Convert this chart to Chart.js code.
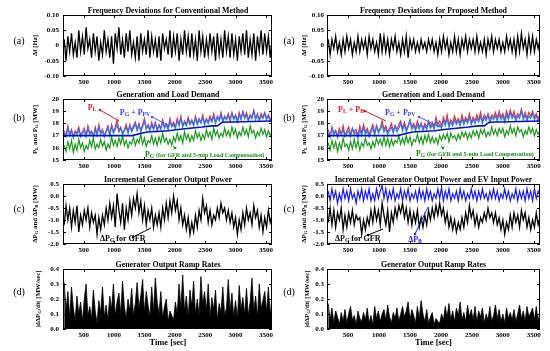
<!DOCTYPE html>
<html><head><meta charset="utf-8">
<script src="https://cdn.jsdelivr.net/npm/chart.js@4.4.1/dist/chart.umd.min.js"></script>
<style>
html,body{margin:0;padding:0;background:#fff;width:550px;height:351px;overflow:hidden;position:relative}
canvas{position:absolute}
</style></head><body>
<script>
// ---------- DATA ----------
const xTickValues = [500,1000,1500,2000,2500,3000,3500];
const timeMin = 160, timeMax = 3600, sampleStart = 180, sampleEnd = 3600;

const ticksA = [-0.10,-0.05,0,0.05,0.10];
const ticksB = [15,16,17,18,19,20];
const ticksC = [-2.0,-1.5,-1.0,-0.5,0.0,0.5];
const ticksD = [0.0,0.1,0.2,0.3,0.4];

const freqConv = [0.02,-0.05,0.03,-0.02,0.04,-0.03,0.01,-0.04,0.05,-0.02,
0.03,-0.03,0.06,-0.01,0.02,-0.04,0.04,-0.02,0.03,-0.05,
0.01,-0.03,0.05,-0.02,0.02,-0.04,0.03,-0.06,0.04,-0.01,
0.06,-0.03,0.02,-0.04,0.04,-0.02,0.05,-0.03,0.01,-0.04,
0.03,-0.05,0.04,-0.02,0.02,-0.03,0.05,-0.04,0.03,-0.02,
0.02,-0.04,0.03,-0.05,0.04,-0.01,0.02,-0.03,0.05,-0.04,
0.03,-0.02,0.04,-0.05,0.02,-0.03,0.05,-0.02,0.03,-0.04,
0.04,-0.03,0.02,-0.05,0.05,-0.02,0.03,-0.04,0.02,-0.03,
0.04,-0.02,0.03,-0.05,0.04,-0.03,0.02,-0.04,0.05,-0.02,
0.03,-0.04,0.04,-0.03,0.02,-0.05,0.03,-0.02,0.04,-0.03,
0.05,-0.04,0.02,-0.03,0.04,-0.05,0.03,-0.02,0.05,-0.03,
0.04,-0.02,0.03,-0.04,0.02];

const freqProp = [0.02,-0.03,0.02,-0.01,0.03,-0.02,0.01,-0.03,0.02,-0.02,
0.03,-0.01,0.02,-0.03,0.01,-0.02,0.03,-0.02,0.02,-0.01,
0.02,-0.03,0.03,-0.01,0.02,-0.02,0.01,-0.03,0.04,-0.02,
0.03,-0.02,0.02,-0.03,0.02,-0.01,0.03,-0.02,0.01,-0.03,
0.02,-0.02,0.03,-0.04,0.02,-0.01,0.02,-0.02,0.01,-0.02,
0.02,-0.01,0.01,-0.02,0.02,-0.01,0.02,-0.02,0.01,-0.03,
0.02,-0.02,0.03,-0.01,0.02,-0.03,0.01,-0.02,0.03,-0.02,
0.02,-0.03,0.02,-0.01,0.03,-0.02,0.02,-0.01,0.02,-0.02,
0.03,-0.02,0.01,-0.02,0.02,-0.03,0.02,-0.01,0.03,-0.02,
0.02,-0.01,0.02,-0.02,0.01,-0.02,0.03,-0.01,0.02,-0.02,
0.02,-0.03,0.03,-0.02,0.04,-0.01,0.02,-0.03,0.03,-0.02,
0.03,-0.02,0.02,-0.01,0.02];

const genPV = [17.2,16.9,17.6,17.0,17.4,16.8,17.3,17.1,17.5,16.9,
17.2,17.4,16.9,17.6,17.1,17.3,16.8,17.5,17.0,17.7,
17.1,17.4,16.9,17.3,17.6,17.0,17.8,17.2,17.5,17.9,
17.3,17.6,17.1,17.4,17.7,17.2,17.8,17.3,17.6,18.0,
17.4,17.9,17.3,17.7,18.2,17.5,17.8,17.4,17.9,17.5,
18.0,17.4,17.8,17.5,18.1,17.6,17.9,17.5,18.2,17.7,
17.9,17.6,18.2,17.8,18.4,17.7,18.1,17.8,18.3,17.9,
18.2,17.8,18.4,17.9,18.3,18.0,18.5,17.9,18.3,18.0,
18.4,18.1,18.6,18.0,18.5,18.2,18.7,18.1,18.5,18.3,
18.6,18.2,18.8,18.3,18.6,18.1,18.7,18.3,18.9,18.4,
18.7,18.2,18.6,18.4,19.0,18.3,18.7,18.2,18.6,18.4,
18.8,18.3,18.6,18.2,18.5];

const loadConv = [17.4,17.0,17.8,17.1,17.5,16.9,17.4,17.2,17.7,17.0,
17.3,17.6,17.0,17.8,17.2,17.4,16.9,17.7,17.1,17.9,
17.2,17.5,17.0,17.4,17.8,17.1,17.9,17.3,17.7,18.3,
17.4,17.7,17.2,17.5,17.9,17.3,17.9,17.4,17.8,18.1,
17.5,18.0,17.4,17.9,18.4,17.6,17.9,17.5,18.1,17.6,
18.1,17.5,17.9,17.6,18.3,17.7,18.0,17.6,18.4,17.8,
18.1,17.7,18.4,17.9,18.6,17.8,18.2,17.9,18.5,18.0,
18.3,17.9,18.6,18.0,18.4,18.1,18.7,18.0,18.4,18.1,
18.6,18.2,18.8,18.1,18.6,18.3,18.9,18.2,18.6,18.4,
18.8,18.3,18.9,18.4,18.7,18.2,18.9,18.4,19.0,18.5,
18.9,18.3,18.7,18.5,19.1,18.4,18.8,18.3,18.8,18.5,
18.9,18.4,18.7,18.3,18.6];

const loadProp = [17.5,16.9,17.7,17.2,17.4,17.0,17.6,17.1,17.8,17.0,
17.4,17.7,17.1,17.6,17.3,17.5,17.0,17.8,17.2,17.9,
17.3,17.6,17.1,17.5,17.9,17.2,17.8,17.4,17.6,18.2,
17.5,17.8,17.3,17.6,18.0,17.4,17.8,17.5,17.9,18.2,
17.6,18.1,17.5,17.8,18.3,17.7,18.0,17.6,18.2,17.7,
18.0,17.6,18.0,17.7,18.2,17.8,18.1,17.7,18.5,17.9,
18.2,17.8,18.5,18.0,18.7,17.9,18.3,18.0,18.6,18.1,
18.4,18.0,18.7,18.1,18.5,18.2,18.8,18.1,18.5,18.2,
18.7,18.3,18.9,18.2,18.7,18.4,18.8,18.3,18.7,18.5,
18.9,18.4,19.0,18.5,18.8,18.3,19.0,18.5,19.1,18.6,
19.0,18.4,18.8,18.6,19.2,18.5,18.9,18.4,18.9,18.6,
19.0,18.5,18.8,18.4,18.7];

const genConv = [16.2,15.7,16.5,15.9,16.6,15.6,16.3,15.8,16.7,16.0,
16.4,15.7,16.2,15.9,16.6,16.1,16.8,15.9,16.3,16.0,
16.7,16.1,16.5,15.8,16.3,16.0,16.9,16.2,16.6,16.1,
16.8,16.3,17.0,16.2,16.6,16.0,16.5,16.3,16.9,16.2,
16.7,16.4,17.1,16.3,16.8,16.1,16.6,16.4,17.0,16.3,
16.8,16.2,16.9,16.4,17.2,16.5,16.8,16.3,16.7,16.2,
16.9,16.5,17.2,16.6,17.0,16.4,17.3,16.7,17.1,16.5,
17.0,16.6,17.4,16.8,17.2,16.6,17.1,16.7,17.5,16.9,
17.3,16.7,17.6,17.0,17.4,16.8,17.2,16.9,17.6,17.0,
17.4,16.9,17.7,17.1,17.5,16.8,17.3,17.0,17.7,17.1,
17.5,16.9,17.8,17.2,17.4,16.8,17.3,17.0,17.6,17.1,
17.5,16.9,17.4,17.0,17.3];

const genProp = [16.4,15.8,16.6,16.0,16.5,15.7,16.4,15.9,16.8,16.1,
16.3,15.8,16.5,15.9,16.7,16.0,16.6,15.8,16.4,16.1,
16.8,16.2,16.4,15.9,16.5,16.1,16.8,16.3,16.7,16.2,
16.9,16.2,16.8,16.1,16.7,16.2,16.6,16.4,17.0,16.3,
16.8,16.3,17.0,16.4,16.9,16.2,16.7,16.5,17.1,16.4,
16.9,16.3,17.0,16.5,17.1,16.4,16.9,16.4,16.8,16.3,
17.0,16.6,17.1,16.7,17.2,16.5,17.2,16.8,17.0,16.6,
17.1,16.7,17.3,16.9,17.3,16.7,17.2,16.8,17.4,17.0,
17.4,16.8,17.5,17.1,17.5,16.9,17.3,17.0,17.7,17.1,
17.5,17.0,17.6,17.2,17.6,16.9,17.4,17.1,17.8,17.2,
17.6,17.0,17.7,17.3,17.5,16.9,17.4,17.1,17.7,17.2,
17.6,17.0,17.5,17.1,17.4];

const trendTimes = [160,1300,1450,1550,1900,2050,2450,2600,2700,2780,3600];
const trendValues = [17.0,17.0,17.2,17.3,17.4,17.5,17.7,17.8,17.8,18.1,18.2];

const dPgConv = [-1.2,-0.4,-1.0,-0.5,-1.3,-0.6,-1.1,-0.4,-1.5,-0.8,
-1.2,-0.6,-1.0,-0.5,-1.3,-0.7,-1.1,-0.8,-1.6,-0.9,
-1.4,-0.8,-1.2,-0.5,-1.0,-0.3,-0.9,-0.4,-1.3,0.1,
-0.6,-1.1,-0.3,-1.4,-0.5,-1.0,-0.2,-0.8,-0.1,-0.5,
0.1,-0.7,-0.2,-1.0,-0.4,-1.2,-0.6,-1.0,-0.5,-1.3,
-0.8,-1.2,-0.7,-1.3,-0.5,-1.0,-0.3,-0.9,-0.2,-0.7,
0.0,-0.6,-0.2,-1.0,-0.5,-1.2,-0.8,-1.4,-0.9,-1.6,
-1.1,-1.5,-0.8,-1.3,-0.6,-1.0,-0.1,-0.7,-0.4,-1.1,
-0.6,-1.2,-0.8,-1.0,-0.5,-0.9,-0.3,-0.7,-0.5,-1.0,
-0.6,-1.1,-0.7,-1.3,-0.9,-1.6,-1.0,-1.4,-0.7,-1.2,
-0.5,-1.0,-0.7,-1.2,-0.4,-0.9,-0.6,-1.3,-0.8,-1.5,
-0.9,-1.3,-0.6,-1.1,-0.8];

const dPgProp = [-1.1,-0.5,-1.2,-0.6,-1.3,-0.7,-1.0,-0.5,-1.4,-0.8,
-1.3,-0.7,-1.1,-0.6,-1.2,-0.8,-1.0,-0.9,-1.6,-1.0,
-1.4,-0.9,-1.2,-0.6,-1.1,-0.5,-1.0,-0.6,-1.2,-0.3,
-0.8,-1.2,-0.6,-1.5,-0.7,-1.1,-0.5,-0.9,-0.4,-0.7,
-0.3,-0.9,-0.5,-1.1,-0.6,-1.2,-0.7,-1.1,-0.6,-1.3,
-0.9,-1.3,-0.8,-1.2,-0.6,-1.0,-0.5,-0.9,-0.4,-0.8,
-0.3,-0.8,-0.5,-1.1,-0.7,-1.3,-0.9,-1.4,-1.0,-1.5,
-1.1,-1.4,-0.9,-1.3,-0.7,-1.1,-0.4,-0.9,-0.6,-1.2,
-0.8,-1.3,-0.9,-1.1,-0.7,-1.0,-0.5,-0.9,-0.7,-1.1,
-0.7,-1.2,-0.9,-1.4,-1.0,-1.6,-1.1,-1.4,-0.8,-1.3,
-0.7,-1.1,-0.8,-1.3,-0.6,-1.0,-0.7,-1.3,-0.9,-1.4,
-1.0,-1.3,-0.7,-1.2,-0.9];

const dPb = [0.2,-0.2,0.3,-0.1,0.2,-0.3,0.1,-0.2,0.3,-0.1,
0.2,-0.2,0.3,-0.1,0.1,-0.3,0.2,-0.1,0.3,-0.2,
0.2,-0.1,0.3,-0.2,0.1,-0.2,0.3,-0.1,0.2,0.45,
-0.1,0.3,-0.2,0.2,-0.1,0.3,-0.2,0.1,-0.1,0.3,
-0.2,0.2,-0.1,0.3,-0.2,0.1,-0.1,0.2,-0.2,0.3,
-0.1,0.2,-0.2,0.3,-0.1,0.2,-0.2,0.1,-0.1,0.3,
-0.1,0.35,-0.2,0.2,-0.1,0.3,-0.2,0.1,-0.1,0.2,
-0.2,0.3,-0.1,0.2,-0.2,0.1,-0.1,0.3,-0.1,0.2,
-0.2,0.2,-0.1,0.3,-0.1,0.1,-0.2,0.2,-0.1,0.3,
-0.1,0.2,-0.2,0.1,-0.1,0.3,-0.1,0.2,-0.2,0.1,
-0.1,0.3,-0.2,0.2,-0.1,0.2,-0.2,0.3,-0.1,0.2,
-0.2,0.3,-0.1,0.2,0.0];

const rampConv = [0.31,0.12,0.25,0.08,0.28,0.14,0.06,0.22,0.10,0.18,
0.05,0.20,0.30,0.09,0.15,0.07,0.26,0.12,0.04,0.19,
0.11,0.28,0.08,0.16,0.06,0.22,0.13,0.30,0.09,0.18,
0.24,0.10,0.32,0.15,0.07,0.20,0.12,0.27,0.09,0.17,
0.31,0.14,0.22,0.33,0.11,0.25,0.16,0.08,0.28,0.12,
0.34,0.18,0.10,0.25,0.07,0.15,0.20,0.05,0.12,0.09,
0.06,0.18,0.10,0.30,0.14,0.36,0.12,0.22,0.08,0.26,
0.15,0.32,0.10,0.20,0.09,0.35,0.16,0.25,0.12,0.30,
0.08,0.21,0.13,0.26,0.06,0.17,0.11,0.28,0.09,0.14,
0.33,0.12,0.24,0.08,0.19,0.07,0.29,0.13,0.21,0.10,
0.27,0.09,0.18,0.34,0.12,0.22,0.08,0.30,0.14,0.19,
0.25,0.11,0.28,0.09,0.23];

const rampProp = [0.17,0.06,0.14,0.04,0.12,0.08,0.03,0.11,0.05,0.13,
0.04,0.10,0.15,0.06,0.09,0.03,0.12,0.07,0.05,0.11,
0.06,0.14,0.04,0.09,0.03,0.15,0.07,0.12,0.05,0.10,
0.13,0.06,0.16,0.08,0.04,0.11,0.07,0.14,0.05,0.10,
0.15,0.08,0.12,0.18,0.06,0.13,0.09,0.04,0.15,0.07,
0.19,0.10,0.05,0.13,0.04,0.08,0.11,0.03,0.07,0.05,
0.04,0.10,0.06,0.15,0.08,0.17,0.06,0.12,0.05,0.14,
0.09,0.18,0.06,0.11,0.05,0.16,0.08,0.13,0.06,0.15,
0.05,0.12,0.08,0.14,0.04,0.10,0.06,0.15,0.05,0.09,
0.16,0.07,0.13,0.05,0.10,0.04,0.14,0.07,0.11,0.06,
0.13,0.05,0.10,0.16,0.07,0.12,0.05,0.15,0.08,0.11,
0.14,0.06,0.15,0.05,0.12];

// ---------- HELPERS ----------
const FONT = '"Liberation Serif","Times New Roman",serif';
function series(vals){
  const n = vals.length, step = (sampleEnd - sampleStart)/(n-1);
  return vals.map((v,i)=>({x: sampleStart + i*step, y: v}));
}
function pairs(xs, ys){ return xs.map((x,i)=>({x, y: ys[i]})); }

function parseRich(str){
  const re = /\{([^}]*)\}|<([^>]*)>|([^{<]+)/g; const out=[]; let m;
  while((m = re.exec(str))){
    if(m[1]!==undefined) out.push({t:m[1],k:'sub'});
    else if(m[2]!==undefined) out.push({t:m[2],k:'small'});
    else out.push({t:m[3],k:'n'});
  }
  return out;
}
function drawRich(ctx, str, x, y, size, color, align, weight){
  const segs = parseRich(str); weight = weight || 'bold';
  const fontFor = k => weight+' '+(k==='n'? size : (k==='sub'? size*0.72 : size*0.78))+'px '+FONT;
  let w = 0;
  segs.forEach(s=>{ ctx.font = fontFor(s.k); s.w = ctx.measureText(s.t).width; w += s.w; });
  let cx = align==='center' ? x - w/2 : (align==='right' ? x - w : x);
  ctx.fillStyle = color; ctx.textBaseline = 'middle'; ctx.textAlign = 'left';
  segs.forEach(s=>{ ctx.font = fontFor(s.k); ctx.fillText(s.t, cx, y + (s.k==='sub'? size*0.22 : 0)); cx += s.w; });
}

const deco = {
  id: 'deco',
  afterDraw(chart, args, o){
    const {ctx, chartArea:a, scales} = chart;
    ctx.save();
    ctx.strokeStyle = '#000'; ctx.lineWidth = 1;
    ctx.strokeRect(Math.round(a.left)+0.5, Math.round(a.top)+0.5, Math.round(a.right-a.left)-1, Math.round(a.bottom-a.top)-1);
    ctx.beginPath();
    scales.x.ticks.forEach(t=>{ const p = Math.round(scales.x.getPixelForValue(t.value))+0.5;
      ctx.moveTo(p,a.bottom); ctx.lineTo(p,a.bottom-3); ctx.moveTo(p,a.top); ctx.lineTo(p,a.top+3); });
    scales.y.ticks.forEach(t=>{ const p = Math.round(scales.y.getPixelForValue(t.value))+0.5;
      ctx.moveTo(a.left,p); ctx.lineTo(a.left+3,p); ctx.moveTo(a.right,p); ctx.lineTo(a.right-3,p); });
    ctx.stroke();
    const ox = o.ox, oy = o.oy;
    (o.lines||[]).forEach(l=>{
      ctx.strokeStyle = l.c; ctx.lineWidth = 1;
      ctx.beginPath(); ctx.moveTo(l.x1-ox,l.y1-oy); ctx.lineTo(l.x2-ox,l.y2-oy); ctx.stroke();
      ctx.fillStyle = l.c; ctx.beginPath(); ctx.arc(l.x1-ox,l.y1-oy,1.3,0,Math.PI*2); ctx.fill();
    });
    (o.texts||[]).forEach(t=>{
      if(t.rot){ ctx.save(); ctx.translate(t.x-ox,t.y-oy); ctx.rotate(-Math.PI/2);
        drawRich(ctx,t.s,0,0,t.size,t.c||'#000','center',t.w); ctx.restore(); }
      else drawRich(ctx,t.s,t.x-ox,t.y-oy,t.size,t.c||'#000',t.align||'center',t.w);
    });
    ctx.restore();
  }
};

const rows = [{top:0,h:85,ct:15,cb:76},{top:85,h:85,ct:99,cb:160},{top:170,h:85,ct:184,cb:244},{top:255,h:96,ct:269,cb:329}];
const cols = [{left:0,w:275,cl:63,cr:273,tp:4,lab:19,yt:35},{left:275,w:275,cl:327,cr:540,tp:3,lab:289,yt:304}];
const labY = [41,118,209,292];
const labs = ['(a)','(b)','(c)','(d)'];

function makeChart(ci, ri, datasets, yTicks, fmt, title, yTitle, extraTexts, lines, titleSize){
  const c = cols[ci], r = rows[ri];
  const cv = document.createElement('canvas');
  cv.width = c.w; cv.height = r.h;
  cv.style.left = c.left+'px'; cv.style.top = r.top+'px';
  cv.style.width = c.w+'px'; cv.style.height = r.h+'px';
  document.body.appendChild(cv);
  const midX = (c.cl + c.cr)/2, midY = (r.ct + r.cb)/2;
  const texts = [
    {s:title, x:midX, y:r.ct-4.5, size:titleSize||7.9},
    {s:labs[ri], x:c.lab, y:labY[ri], size:10, w:'normal'},
    {s:yTitle, x:c.yt + (ri===3?3:0), y:midY, size:6.8, rot:true}
  ].concat(extraTexts||[]);
  if(ri===3) texts.push({s:'Time [sec]', x:midX, y:343, size:8.4});
  new Chart(cv, {
    type:'line',
    data: {datasets},
    options: {
      responsive:false, animation:false, devicePixelRatio:1,
      layout:{padding:{top:r.ct-r.top, bottom:0, left:0, right:c.left+c.w-c.cr}},
      plugins:{legend:{display:false}, tooltip:{enabled:false}, deco:{ox:c.left, oy:r.top, texts, lines}},
      elements:{point:{radius:0}, line:{tension:0}},
      scales:{
        x:{type:'linear', min:timeMin, max:timeMax, offset:false,
          afterBuildTicks:s=>{ s.ticks = xTickValues.map(v=>({value:v})); },
          afterFit:s=>{ s.height = r.top + r.h - r.cb; },
          grid:{display:false, drawTicks:false}, border:{display:false},
          ticks:{color:'#000', font:{family:FONT, size:7, weight:'bold'}, padding:2, maxRotation:0, autoSkip:false, callback:v=>String(v)}},
        y:{type:'linear', min:yTicks[0], max:yTicks[yTicks.length-1],
          afterBuildTicks:s=>{ s.ticks = yTicks.map(v=>({value:v})); },
          afterFit:s=>{ s.width = c.cl - c.left; },
          grid:{display:false, drawTicks:false}, border:{display:false},
          ticks:{color:'#000', font:{family:FONT, size:7, weight:'bold'}, padding:c.tp, callback:fmt}}
      }
    },
    plugins:[deco]
  });
}

const fmtA = v => Math.abs(v)<1e-9 ? '0' : v.toFixed(2);
const fmtB = v => String(Math.round(v));
const fmt1 = v => (Math.abs(v)<1e-9 ? 0 : v).toFixed(1);

const RED='#e0303a', BLUE='#2a78ff', DBLUE='#0010c8', GREEN='#1c991c';
const lineDs = (data,color,w)=>({data, borderColor:color, borderWidth:w||1, pointRadius:0, fill:false});
const spikeDs = data=>({data, borderColor:'#000', backgroundColor:'#000', borderWidth:0.8, pointRadius:0, fill:'origin'});

// (a)
makeChart(0,0,[lineDs(series(freqConv),'#000',1.3)],ticksA,fmtA,'Frequency Deviations for Conventional Method','Δf [Hz]');
makeChart(1,0,[lineDs(series(freqProp),'#000',1.3)],ticksA,fmtA,'Frequency Deviations for Proposed Method','Δf [Hz]');
// (b)
makeChart(0,1,[
  lineDs(pairs(trendTimes,trendValues),DBLUE,1.6),
  lineDs(series(genConv),GREEN,1.2),
  lineDs(series(genPV),BLUE,1.2),
  lineDs(series(loadConv),RED,1.2)
],ticksB,fmtB,'Generation and Load Demand','P{L} and P{G} [MW]',[
  {s:'P{L}', x:92, y:108, size:8, c:'#d0202a'},
  {s:'P{G} + P{PV}', x:135, y:113, size:8, c:'#3a3aff'},
  {s:'P{G} <(for GFR and 5-min Load Compensation)>', x:145, y:155, size:7.8, c:'#1a8a1a', align:'left'}
],[
  {x1:100,y1:110,x2:119,y2:121,c:'#d0202a'},
  {x1:152,y1:117,x2:170,y2:126,c:'#5050ff'},
  {x1:175,y1:148,x2:173,y2:146,c:'#1a8a1a'}
]);
makeChart(1,1,[
  lineDs(pairs(trendTimes,trendValues),DBLUE,1.6),
  lineDs(series(genProp),GREEN,1.2),
  lineDs(series(genPV),BLUE,1.2),
  lineDs(series(loadProp),RED,1.2)
],ticksB,fmtB,'Generation and Load Demand','P{L} and P{G} [MW]',[
  {s:'P{L} + P{B}', x:338, y:110, size:8, c:'#d0202a', align:'left'},
  {s:'P{G} + P{PV}', x:385, y:113, size:8, c:'#3a3aff', align:'left'},
  {s:'P{G} <(for GFR and 5-min Load Compensation)>', x:416, y:154, size:7.7, c:'#1a8a1a', align:'left'}
],[
  {x1:365,y1:111,x2:386,y2:121,c:'#d0202a'},
  {x1:419,y1:117,x2:440,y2:127,c:'#5050ff'},
  {x1:443,y1:148,x2:441,y2:146,c:'#1a8a1a'}
]);
// (c)
makeChart(0,2,[lineDs(series(dPgConv),'#000',1.3)],ticksC,fmt1,'Incremental Generator Output Power','ΔP{G} and ΔP{B} [MW]',[
  {s:'ΔP{G} for GFR', x:100, y:239, size:8, align:'left'}
],[
  {x1:133,y1:237,x2:151,y2:228,c:'#000'}
]);
makeChart(1,2,[lineDs(series(dPb),'#1a1aff',1.2),lineDs(series(dPgProp),'#000',1.3)],ticksC,fmt1,'Incremental Generator Output Power and EV Input Power','ΔP{G} and ΔP{B} [MW]',[
  {s:'ΔP{G} for GFR', x:335, y:239, size:8, align:'left'},
  {s:'ΔP{B}', x:415, y:240, size:8, c:'#2020ff'}
],[
  {x1:368,y1:235,x2:383,y2:229,c:'#000'},
  {x1:415,y1:234,x2:428,y2:207,c:'#2020ff'}
],7.8);
// (d)
makeChart(0,3,[spikeDs(series(rampConv))],ticksD,fmt1,'Generator Output Ramp Rates','|dΔP{G}/dt| [MW/sec]');
makeChart(1,3,[spikeDs(series(rampProp))],ticksD,fmt1,'Generator Output Ramp Rates','|dΔP{G}/dt| [MW/sec]');
</script>
</body></html>
